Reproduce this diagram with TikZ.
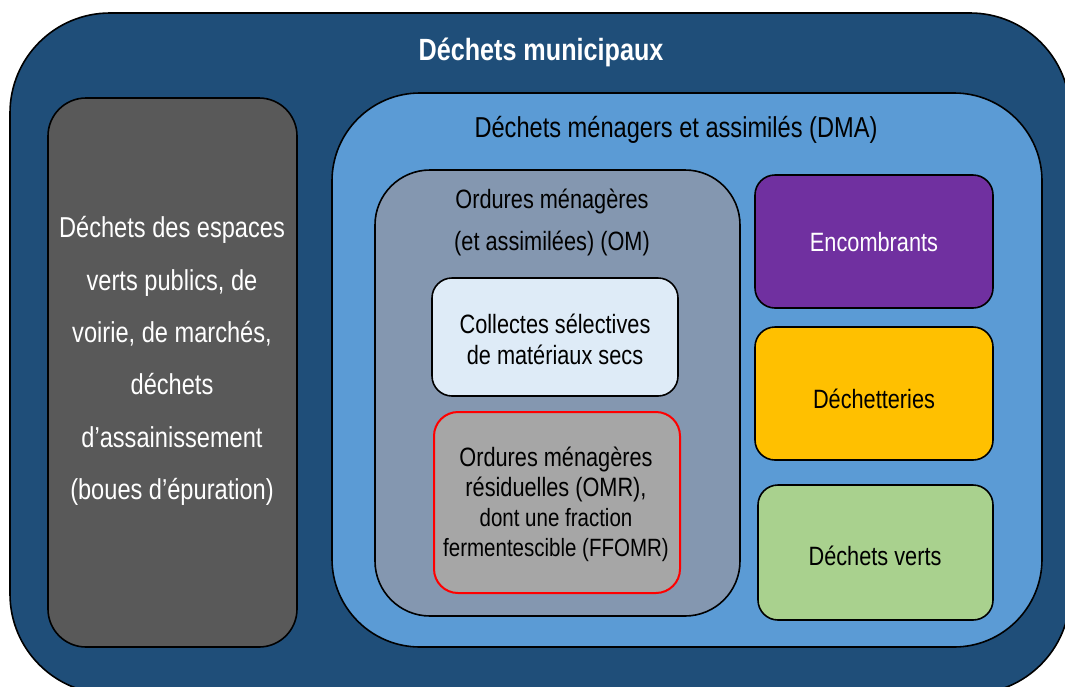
\documentclass[tikz,border=0pt]{standalone}
\usepackage{fontspec}
\setmainfont[FakeStretch=0.82]{Liberation Sans}
\usepackage{tikz}
\usetikzlibrary{positioning}

\definecolor{municipal}{HTML}{1F4E79}
\definecolor{dmablue}{HTML}{5B9BD5}
\definecolor{omgray}{HTML}{8497B0}
\definecolor{publicgray}{HTML}{595959}
\definecolor{collecte}{HTML}{DEEBF7}
\definecolor{omrgray}{HTML}{A6A6A6}
\definecolor{encpurple}{HTML}{7030A0}
\definecolor{dechyellow}{HTML}{FFC000}
\definecolor{vertgreen}{HTML}{A9D18E}

\tikzset{
	box/.style={draw=black, line width=1.6pt},
	bigtext/.style={align=center, font=\fontsize{28.8}{52.4}\selectfont},
	smalltext/.style={align=center, font=\fontsize{26.5}{31}\selectfont}
}

\begin{document}
\begin{tikzpicture}[x=1pt, y=-1pt]
		\useasboundingbox (0,0) rectangle (1065,686);
		
		% outer and DMA boxes
		\draw[box, fill=municipal, rounded corners=100pt] (10,13) rectangle (1070,694);
		\draw[box, fill=publicgray, rounded corners=38pt] (48,98) rectangle (297,647);
		\draw[box, fill=dmablue, rounded corners=88pt] (332,93) rectangle (1042,647);
		\draw[box, fill=omgray, rounded corners=55pt] (375,170) rectangle (740,616);
		
		\draw[box, fill=collecte, rounded corners=20pt] (432,278) rectangle (678,396);
		\draw[line width=2pt, draw=red, fill=omrgray, rounded corners=24pt] (434,412) rectangle (680,593);
		
		\draw[box, fill=encpurple, rounded corners=20pt] (755,175) rectangle (993,308);
		\draw[box, fill=dechyellow, rounded corners=20pt] (755,327) rectangle (993,460);
		\draw[box, fill=vertgreen, rounded corners=20pt] (758,485) rectangle (993,620);
		
		\node[font=\fontsize{30.7}{36}\selectfont\bfseries, text=white] (title) at (541, 52) {Déchets municipaux};
		\node[bigtext] (dma) at (676, 130) {Déchets ménagers et assimilés (DMA)};
		\node[bigtext, text=white] (public) at (172, 361) {Déchets des espaces\\verts publics, de\\voirie, de marchés,\\déchets\\d’assainissement\\(boues d’épuration)};
		\node[align=center, font=\fontsize{26.5}{42}\selectfont] (om) at (552, 222) {Ordures ménagères\\(et assimilées) (OM)};
		
		\node[smalltext] (collectes) at (555, 339) {Collectes sélectives\\de matériaux secs};
		\node[align=center, font=\fontsize{26.5}{30}\selectfont] (omr) at (556, 504) {Ordures ménagères\\résiduelles (OMR),\\{\fontsize{25}{29}\selectfont dont une fraction}\\{\fontsize{25}{29}\selectfont fermentescible (FFOMR)}};
		
		\node[smalltext, text=white] (encombrants) at (874, 242) {Encombrants};
		\node[smalltext] (dechetteries) at (874, 399) {Déchetteries};
		\node[smalltext] (verts) at (875, 556) {Déchets verts};
	\end{tikzpicture}
\end{document}
